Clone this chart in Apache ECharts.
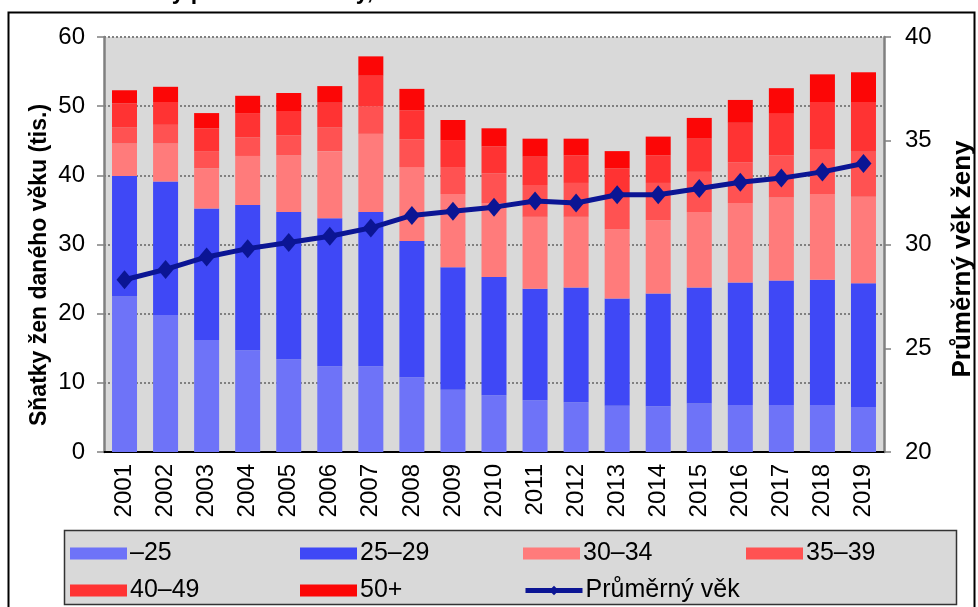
<!DOCTYPE html>
<html>
<head>
<meta charset="utf-8">
<script src="https://cdn.jsdelivr.net/npm/echarts@6/dist/echarts.min.js"></script>
<style>
  html, body { margin: 0; padding: 0; background: #ffffff; }
  #chart { width: 978px; height: 607px; }
</style>
</head>
<body>
<div id="chart"></div>
<script>
// years on the category axis
const years = ['2001', '2002', '2003', '2004', '2005', '2006', '2007', '2008', '2009', '2010',
  '2011', '2012', '2013', '2014', '2015', '2016', '2017', '2018', '2019'];

// marriages of women by age group (thousands)
const ageUnder25 = [22.5, 19.8, 16.2, 14.7, 13.4, 12.4, 12.4, 10.8, 9.0, 8.2, 7.5, 7.2, 6.7, 6.6, 7.0, 6.8, 6.8, 6.8, 6.5];
const age25to29 = [17.4, 19.3, 19.0, 21.0, 21.3, 21.4, 22.3, 19.7, 17.7, 17.1, 16.1, 16.6, 15.5, 16.3, 16.8, 17.7, 18.0, 18.1, 17.9];
const age30to34 = [4.7, 5.5, 5.8, 7.1, 8.2, 9.7, 11.3, 10.7, 10.6, 10.7, 10.4, 10.2, 10.0, 10.6, 10.9, 11.5, 12.0, 12.4, 12.5];
const age35to39 = [2.3, 2.7, 2.5, 2.7, 2.9, 3.4, 4.0, 4.0, 3.9, 4.3, 4.6, 4.9, 4.8, 5.4, 5.8, 5.9, 6.1, 6.5, 6.5];
const age40to49 = [3.5, 3.3, 3.3, 3.5, 3.5, 3.6, 4.4, 4.2, 3.9, 3.9, 4.1, 4.0, 4.0, 4.0, 4.8, 5.7, 6.1, 6.8, 7.2];
const age50plus = [1.9, 2.2, 2.2, 2.5, 2.6, 2.4, 2.8, 3.1, 2.9, 2.6, 2.6, 2.4, 2.5, 2.7, 3.0, 3.3, 3.6, 4.0, 4.3];

// average age of the bride (right axis)
const avgAge = [28.3, 28.8, 29.4, 29.8, 30.1, 30.4, 30.8, 31.4, 31.6, 31.8, 32.1, 32.0, 32.4, 32.4, 32.7, 33.0, 33.2, 33.5, 33.9];

const FONT = 'Liberation Sans, Arial, sans-serif';

const chart = echarts.init(document.getElementById('chart'));

const barSeries = (name, data, color) => ({
  name: name,
  type: 'bar',
  stack: 'total',
  data: data,
  barWidth: 25,
  itemStyle: { color: color },
  z: 2,
});

const legendItem = (name, left, top, icon) => ({
  left: left,
  top: top,
  itemWidth: 57,
  itemHeight: 12,
  itemGap: 0,
  selectedMode: false,
  lineStyle: { width: 5 },
  textStyle: { fontFamily: FONT, fontSize: 25, color: '#000000', padding: [0, 0, 0, -2] },
  data: [icon ? { name: name, icon: icon } : { name: name }],
});

const option = {
  backgroundColor: '#ffffff',
  animation: false,
  title: {
    text: 'Sňatky podle věku ženy, 2001–2019',
    left: 104,
    top: -24,
    textStyle: { fontFamily: FONT, fontSize: 23, fontWeight: 'bold', color: '#000000', lineHeight: 23 },
  },
  graphic: [
    {
      // outer frame
      type: 'rect',
      shape: { x: 8.5, y: 12.5, width: 966, height: 620 },
      style: { fill: 'none', stroke: '#000000', lineWidth: 2 },
      z: 0,
    },
    {
      // legend frame
      type: 'rect',
      shape: { x: 64.5, y: 530.5, width: 892, height: 74 },
      style: { fill: '#d9d9d9', stroke: '#333333', lineWidth: 1.5 },
      z: 0,
    },
    {
      type: 'text',
      x: 40,
      y: 265,
      rotation: Math.PI / 2,
      style: {
        text: 'Sňatky žen daného věku (tis.)',
        fill: '#000000',
        font: 'bold 23px Liberation Sans, Arial, sans-serif',
        textAlign: 'center',
        textVerticalAlign: 'middle',
      },
    },
    {
      type: 'text',
      x: 963,
      y: 259,
      rotation: Math.PI / 2,
      style: {
        text: 'Průměrný věk ženy',
        fill: '#000000',
        font: 'bold 26px Liberation Sans, Arial, sans-serif',
        textAlign: 'center',
        textVerticalAlign: 'middle',
      },
    },
  ],
  legend: [
    legendItem('–25', 65, 536, 'rect'),
    legendItem('25–29', 295, 536, 'rect'),
    legendItem('30–34', 518, 536, 'rect'),
    legendItem('35–39', 741, 536, 'rect'),
    legendItem('40–49', 65, 573, 'rect'),
    legendItem('50+', 295, 573, 'rect'),
    legendItem('Průměrný věk', 518, 573),
  ],
  grid: {
    left: 104,
    right: 94,
    top: 37,
    bottom: 155,
    show: true,
    backgroundColor: '#d9d9d9',
    borderWidth: 0,
  },
  xAxis: {
    type: 'category',
    data: years,
    axisLine: { lineStyle: { color: '#000000', width: 2 } },
    axisTick: { show: false },
    axisLabel: {
      rotate: 90,
      margin: 12,
      fontFamily: FONT,
      fontSize: 24,
      color: '#000000',
    },
  },
  yAxis: [
    {
      type: 'value',
      min: 0,
      max: 60,
      interval: 10,
      axisLine: { show: true, lineStyle: { color: '#808080', width: 2.5 } },
      axisTick: { show: true, length: 7, lineStyle: { color: '#808080', width: 1.5 } },
      axisLabel: { margin: 19, fontFamily: FONT, fontSize: 24, color: '#000000' },
      splitLine: { show: true, lineStyle: { color: '#808080', width: 2, type: [2, 2] } },
    },
    {
      type: 'value',
      min: 20,
      max: 40,
      interval: 5,
      axisLine: { show: true, lineStyle: { color: '#808080', width: 2.5 } },
      axisTick: { show: true, length: 7, lineStyle: { color: '#808080', width: 1.5 } },
      axisLabel: { margin: 21, fontFamily: FONT, fontSize: 24, color: '#000000' },
      splitLine: { show: false },
    },
  ],
  series: [
    barSeries('–25', ageUnder25, '#6e73f8'),
    barSeries('25–29', age25to29, '#3f48f6'),
    barSeries('30–34', age30to34, '#ff7b7b'),
    barSeries('35–39', age35to39, '#ff5252'),
    barSeries('40–49', age40to49, '#ff3333'),
    barSeries('50+', age50plus, '#fc0606'),
    {
      name: 'Průměrný věk',
      type: 'line',
      yAxisIndex: 1,
      data: avgAge,
      symbol: 'diamond',
      symbolSize: [16, 19],
      lineStyle: { color: '#0b1594', width: 5 },
      itemStyle: { color: '#0b1594' },
      z: 5,
    },
  ],
};

chart.setOption(option);
</script>
</body>
</html>
